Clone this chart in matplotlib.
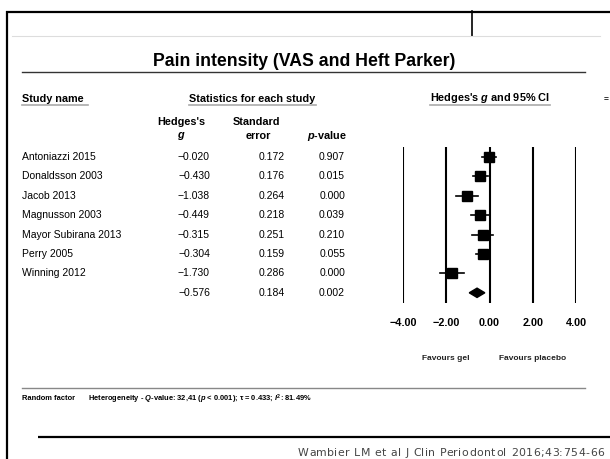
import numpy as np
import matplotlib
matplotlib.use("Agg")
import matplotlib.pyplot as plt
from matplotlib.font_manager import FontProperties

plt.rcParams['font.family'] = ['Liberation Sans', 'DejaVu Sans']
plt.rcParams['mathtext.fontset'] = 'custom'
plt.rcParams['mathtext.it'] = 'Liberation Sans:italic:bold'
plt.rcParams['mathtext.rm'] = 'Liberation Sans:bold'
plt.rcParams['mathtext.bf'] = 'Liberation Sans:bold'

# data
studies = ["Antoniazzi 2015", "Donaldsson 2003", "Jacob 2013", "Magnusson 2003",
           "Mayor Subirana 2013", "Perry 2005", "Winning 2012"]
hedges_g = [-0.020, -0.430, -1.038, -0.449, -0.315, -0.304, -1.730]
std_err = [0.172, 0.176, 0.264, 0.218, 0.251, 0.159, 0.286]
p_values = [0.907, 0.015, 0.000, 0.039, 0.210, 0.055, 0.000]
summary_g = -0.576
summary_se = 0.184
summary_p = 0.002
tau = 0.433
x_ticks = [-4, -2, 0, 2, 4]
tick_labels = ["\u22124.00", "\u22122.00", "0.00", "2.00", "4.00"]
citation = "Wambier LM et al J Clin Periodontol 2016;43:754-66"


def fmt(v):
    return "{:.3f}".format(v).replace("-", "\u2212")


W, H = 610, 459
fig = plt.figure(figsize=(W / 100, H / 100), dpi=100)

# background axes in pixel coordinates for the slide layout and the table text
bg = fig.add_axes([0, 0, 1, 1])
bg.set_xlim(0, W)
bg.set_ylim(H, 0)
bg.axis("off")

# slide frame
bg.plot([6, 610], [11.5, 11.5], color="black", lw=1.6, solid_capstyle="butt")
bg.plot([6.5, 6.5], [11, 459], color="black", lw=1.6, solid_capstyle="butt")
bg.plot([472, 472], [11, 36], color="black", lw=1.2)
bg.plot([12, 600], [36, 36], color="#dddddd", lw=0.8)

# title
bg.text(304, 62, "Pain intensity (VAS and Heft Parker)", ha="center", va="center",
        fontsize=12.7, fontweight="bold")
bg.plot([22, 585], [72, 72], color="#333333", lw=1.0)

# column headers
hdr = dict(fontsize=7.8, fontweight="bold", va="center")
bg.text(22, 99, "Study name", ha="left", **hdr)
bg.text(252, 99, "Statistics for each study", ha="center", **hdr)
bg.text(490, 98, "Hedges's $g$ and 95% CI", ha="center", **hdr)
bg.text(606, 99, "=", ha="center", fontsize=6, fontweight="bold", va="center")
for x0, x1 in [(22, 88), (189, 316), (430, 550)]:
    bg.plot([x0, x1], [104.5, 104.5], color="#aaaaaa", lw=1.2)

bg.text(181, 122, "Hedges's", ha="center", **hdr)
bg.text(181, 136, "$g$", ha="center", **hdr)
bg.text(256, 122, "Standard", ha="center", **hdr)
bg.text(258, 136, "error", ha="center", **hdr)
bg.text(327, 136, "$p$-value", ha="center", **hdr)

# table rows
row_y0, row_dy = 157, 19.4
row_kw = dict(fontsize=7.5, va="center")
for i, name in enumerate(studies):
    y = row_y0 + i * row_dy
    bg.text(22, y, name, ha="left", **row_kw)
    bg.text(210, y, fmt(hedges_g[i]), ha="right", **row_kw)
    bg.text(285, y, fmt(std_err[i]), ha="right", **row_kw)
    bg.text(345, y, fmt(p_values[i]), ha="right", **row_kw)
ys = row_y0 + len(studies) * row_dy
bg.text(210, ys, fmt(summary_g), ha="right", **row_kw)
bg.text(285, ys, fmt(summary_se), ha="right", **row_kw)
bg.text(345, ys, fmt(summary_p), ha="right", **row_kw)

# forest plot axes: x from -4 to 4 spans pixels 403..576, lines from y 147..303
left, right, top, bottom = 403, 576, 147, 303
ax = fig.add_axes([left / W, 1 - bottom / H, (right - left) / W, (bottom - top) / H])
ax.set_xlim(-4, 4)
n = len(studies)
ax.set_ylim((bottom - row_y0) / row_dy, (top - row_y0) / row_dy)
for s in ax.spines.values():
    s.set_visible(False)
ax.set_yticks([])
ax.set_xticks(x_ticks)
ax.set_xticklabels(tick_labels)
ax.tick_params(axis="x", length=0, pad=10.5, labelsize=7.8)
for lab in ax.get_xticklabels():
    lab.set_fontweight("bold")
ax.patch.set_alpha(0)

for xt in x_ticks:
    ax.axvline(xt, color="black", lw=1.5, zorder=1)

g = np.array(hedges_g)
se = np.array(std_err)
w = 1.0 / (se ** 2 + tau ** 2)
sizes = 7.6 * np.sqrt(w / w.max())
for i in range(n):
    lo, hi = g[i] - 1.96 * se[i], g[i] + 1.96 * se[i]
    ax.plot([lo, hi], [i, i], color="black", lw=1.2, zorder=2, clip_on=False)
    ax.plot(g[i], i, marker="s", ms=sizes[i], color="black", zorder=3, clip_on=False)

lo, hi = summary_g - 1.96 * summary_se, summary_g + 1.96 * summary_se
ax.fill([lo, summary_g, hi, summary_g], [n, n - 0.24, n, n + 0.24], color="black",
        zorder=3, clip_on=False)

ftr = ax.get_xaxis_transform()
fav_y = -(358 - bottom) / (bottom - top)
ax.text(-2, fav_y, "Favours gel", transform=ftr, ha="center",
        va="center", fontsize=6, fontweight="bold", color="#222222")
ax.text(2, fav_y, "Favours placebo", transform=ftr, ha="center",
        va="center", fontsize=6, fontweight="bold", color="#222222")

# bottom notes
bg.plot([22, 585], [388, 388], color="#888888", lw=1.0)
bg.text(22, 399, "Random factor", ha="left", va="center", fontsize=5.4, fontweight="bold")
bg.text(88, 399,
        "Heterogeneity - $Q$-value: 32,41 ($p$ < 0.001); \u03c4 = 0.433; $I^2$: 81.49%",
        ha="left", va="center", fontsize=5.4, fontweight="bold")
bg.plot([38, 610], [437, 437], color="black", lw=1.6, solid_capstyle="butt")

# citation with slight letter spacing (text spread between x=298 and x=604)
renderer = fig.canvas.get_renderer()
cprop = FontProperties(family="DejaVu Sans", size=7.8)
natural = renderer.get_text_width_height_descent(citation, cprop, ismath=False)[0]
track = max(0.0, (306 - natural) / (len(citation) - 1))
for i, ch in enumerate(citation):
    adv = renderer.get_text_width_height_descent(citation[:i], cprop, ismath=False)[0] if i else 0
    bg.text(298 + adv + i * track, 453, ch, ha="left", va="center",
            fontproperties=cprop, color="#444444")

fig.savefig("out.png", dpi=100)
